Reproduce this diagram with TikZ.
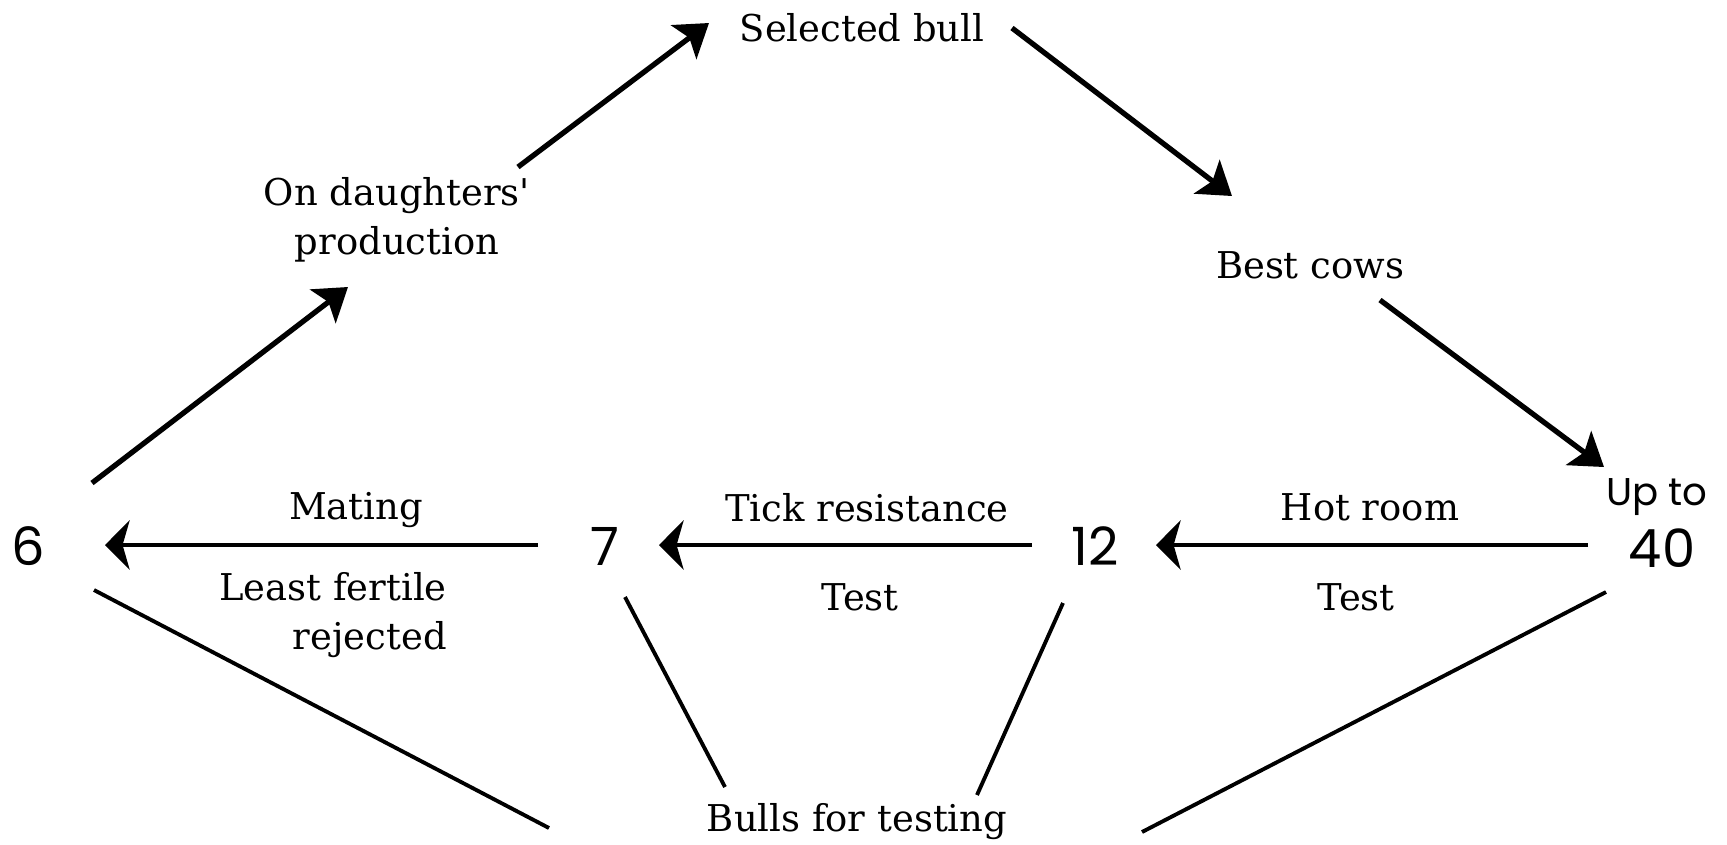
\documentclass[tikz,border=0pt]{standalone}
\usepackage{fontspec}
\setmainfont{DejaVu Serif}
\newfontfamily\numfont{Poppins}
\usetikzlibrary{arrows.meta}
\tikzset{
  lbl/.style={font=\fontsize{10.5}{14}\selectfont, inner sep=0pt},
  num/.style={font=\numfont\fontsize{15}{18}\selectfont, inner sep=0pt},
  arr/.style={-{Stealth[length=9pt, width=12pt, inset=2pt]}, line width=1.5pt},
  harr/.style={-{Stealth[length=7pt, width=14pt, inset=2pt]}, line width=1.1pt},
  leg/.style={line width=1.1pt},
}

\begin{document}
\begin{tikzpicture}[x=0.01cm, y=-0.01cm]
  \useasboundingbox (0,0) rectangle (1727,844);
  % Pocty byku
  \node[num] (six) at (28,546) {6};
  \node[num] (seven) at (605,546) {7};
  \node[num] (twelve) at (1095,546) {12};
  \node[num] (forty) at (1662,548) {40};
  \node[num, font=\numfont\fontsize{11}{13}\selectfont] (upto) at (1657,497) {Up to};
  % Popisky
  \node[lbl] (sel) at (862,28) {Selected bull};
  \node[lbl, align=center] (daught) at (397,220) {On daughters\textquotesingle\\production};
  \node[lbl] (best) at (1310,265) {Best cows};
  \node[lbl] (bulls) at (857,822) {Bulls for testing};
  \node[lbl] (mating) at (356,510) {Mating};
  \node[lbl, align=right] (fertile) at (333,615) {Least fertile\\rejected};
  \node[lbl] (tick) at (867,508) {Tick resistance};
  \node[lbl] (testa) at (860,597) {Test};
  \node[lbl] (hot) at (1370,507) {Hot room};
  \node[lbl] (testb) at (1356,597) {Test};
  % Horni cyklus
  \draw[arr] ([shift={(64,-63)}]six.center) -- ([shift={(-49,67)}]daught.center);
  \draw[arr] ([shift={(121,-53)}]daught.center) -- ([shift={(-153,-5)}]sel.center);
  \draw[arr] ([shift={(150,0)}]sel.center) -- ([shift={(-78,-69)}]best.center);
  \draw[arr] ([shift={(70,35)}]best.center) -- ([shift={(-53,-30)}]upto.center);
  % Testy
  \draw[harr] ([shift={(-74,-3)}]forty.center) -- ([shift={(61,-1)}]twelve.center);
  \draw[harr] ([shift={(-63,-1)}]twelve.center) -- ([shift={(54,-1)}]seven.center);
  \draw[harr] ([shift={(-67,-1)}]seven.center) -- ([shift={(77,-1)}]six.center);
  % Byci k testovani
  \draw[leg] ([shift={(66,44)}]six.center) -- ([shift={(-308,6)}]bulls.center);
  \draw[leg] ([shift={(20,51)}]seven.center) -- ([shift={(-132,-35)}]bulls.center);
  \draw[leg] ([shift={(-32,57)}]twelve.center) -- ([shift={(120,-27)}]bulls.center);
  \draw[leg] ([shift={(-56,44)}]forty.center) -- ([shift={(285,10)}]bulls.center);
\end{tikzpicture}
\end{document}
